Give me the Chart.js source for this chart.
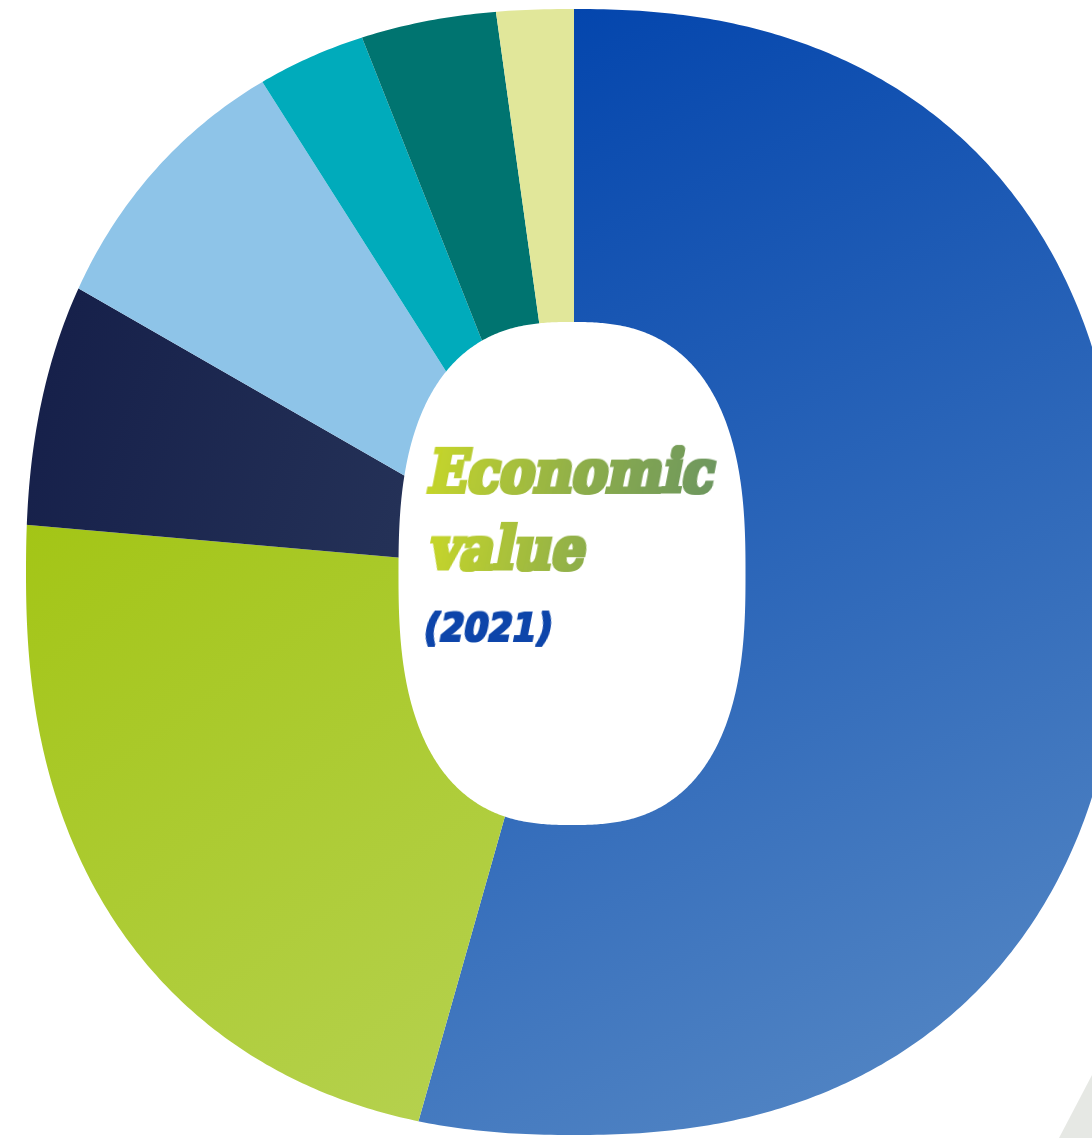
<!DOCTYPE html>
<html>
<head>
<meta charset="utf-8">
<script src="https://cdn.jsdelivr.net/npm/chart.js@4.4.1/dist/chart.umd.min.js"></script>
<style>
  html, body { margin: 0; padding: 0; background: #fff; }
  #wrap { position: relative; width: 1092px; height: 1138px; overflow: hidden; background: #fff; }
  #valueChart { position: absolute; left: -126px; top: -127px; }
  #labels { position: absolute; left: 0; top: 0; }
  .corner {
    position: absolute; left: 1040px; top: 1060px; width: 52px; height: 78px;
    background: #e6e8e4;
    clip-path: polygon(52px 15px, 19px 78px, 52px 78px);
  }
</style>
</head>
<body>
<div id="wrap">
  <canvas id="valueChart" width="1400" height="1400"></canvas>
  <div class="corner"></div>
  <svg id="labels" width="1092" height="1138" xmlns="http://www.w3.org/2000/svg">
    <defs>
      <linearGradient id="titleGrad" gradientUnits="userSpaceOnUse" x1="0" y1="0" x2="292" y2="0">
        <stop offset="0" stop-color="#c4d42a"/>
        <stop offset="0.55" stop-color="#8aab4b"/>
        <stop offset="1" stop-color="#6b955f"/>
      </linearGradient>
      <filter id="heavy" x="-10%" y="-20%" width="120%" height="140%">
        <feMorphology operator="dilate" radius="2.4 1.6"/>
      </filter>
      <filter id="heavySmall" x="-10%" y="-20%" width="120%" height="140%">
        <feMorphology operator="dilate" radius="1.4 1"/>
      </filter>
    </defs>
    <g font-family="DejaVu Serif" font-weight="bold" font-size="59" fill="url(#titleGrad)">
      <text id="t1" filter="url(#heavy)" transform="translate(426,492) skewX(-11)" lengthAdjust="spacingAndGlyphs">Economic</text>
      <text id="t2" filter="url(#heavy)" transform="translate(428,569) skewX(-11)" lengthAdjust="spacingAndGlyphs">value</text>
    </g>
    <text id="year" filter="url(#heavySmall)" transform="translate(422,641) skewX(-11)" lengthAdjust="spacingAndGlyphs"
          font-family="DejaVu Sans" font-weight="bold" font-size="38" fill="#0a44aa">(2021)</text>
  </svg>
</div>
<script>
// share of economic value, clockwise from 12 o'clock
const sectors = ['Sector 1', 'Sector 2', 'Sector 3', 'Sector 4', 'Sector 5', 'Sector 6', 'Sector 7'];
const shares = [54.4, 22.0, 6.9, 7.7, 3.0, 3.8, 2.2];

// canvas is bigger than the page so the pie can overflow the rounded shape
const OX = 126, OY = 127;

function lin(ctx, x0, y0, x1, y1, c0, c1) {
    const g = ctx.createLinearGradient(x0 + OX, y0 + OY, x1 + OX, y1 + OY);
    g.addColorStop(0, c0);
    g.addColorStop(1, c1);
    return g;
}

function sliceColor(c) {
    const ctx = c.chart.ctx;
    switch (c.dataIndex) {
        case 0: return lin(ctx, 560, 0, 1092, 1100, '#0345ad', '#5789c5');
        case 1: return lin(ctx, 0, 530, 420, 1130, '#a3c515', '#b5d14e');
        case 2: return lin(ctx, 30, 400, 400, 520, '#16204a', '#243157');
        case 3: return '#8ec4e8';
        case 4: return '#00abbb';
        case 5: return '#007470';
        default: return '#e1e79a';
    }
}

function superellipse(ctx, cx, cy, a, b, n) {
    const steps = 720;
    for (let i = 0; i <= steps; i++) {
        const t = (i / steps) * Math.PI * 2;
        const c = Math.cos(t), s = Math.sin(t);
        const x = cx + a * Math.sign(c) * Math.pow(Math.abs(c), 2 / n);
        const y = cy + b * Math.sign(s) * Math.pow(Math.abs(s), 2 / n);
        if (i === 0) ctx.moveTo(x, y); else ctx.lineTo(x, y);
    }
    ctx.closePath();
}

// clip the slices to the rounded outline with its rounded hole
const shapeClip = {
    id: 'shapeClip',
    beforeDatasetsDraw(chart) {
        const ctx = chart.ctx;
        ctx.save();
        ctx.beginPath();
        superellipse(ctx, 574 + OX, 572 + OY, 548, 563, 2.3);
        superellipse(ctx, 572 + OX, 573.5 + OY, 173.5, 251.5, 2.6);
        ctx.clip('evenodd');
    },
    afterDatasetsDraw(chart) {
        chart.ctx.restore();
    }
};

new Chart(document.getElementById('valueChart'), {
    type: 'pie',
    data: {
        labels: sectors,
        datasets: [{
            data: shares,
            backgroundColor: sliceColor,
            borderWidth: 0,
            hoverOffset: 0
        }]
    },
    options: {
        responsive: false,
        animation: false,
        devicePixelRatio: 1,
        layout: { padding: 0 },
        plugins: {
            legend: { display: false },
            tooltip: { enabled: false }
        }
    },
    plugins: [shapeClip]
});

// squeeze the faces to the reference widths
function fitText() {
    const t1 = document.getElementById('t1');
    const t2 = document.getElementById('t2');
    const yr = document.getElementById('year');
    [t1, t2, yr].forEach(el => el.removeAttribute('textLength'));
    const s = 286 / t1.getComputedTextLength();
    t1.setAttribute('textLength', 286);
    t2.setAttribute('textLength', t2.getComputedTextLength() * s);
    yr.setAttribute('textLength', 128);
}
fitText();
document.fonts.ready.then(fitText);
</script>
</body>
</html>
